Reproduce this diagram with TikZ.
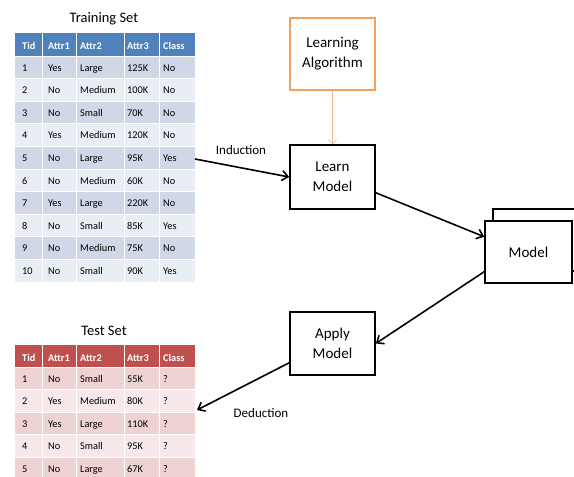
\documentclass[tikz,border=0pt]{standalone}
\usepackage{fontspec}
\setmainfont{Carlito}
\usetikzlibrary{calc,arrows.meta}
\definecolor{trainhead}{RGB}{79,129,189}
\definecolor{trainodd}{RGB}{208,216,232}
\definecolor{traineven}{RGB}{233,237,244}
\definecolor{testhead}{RGB}{192,80,77}
\definecolor{testodd}{RGB}{239,211,210}
\definecolor{testeven}{RGB}{247,233,233}
\definecolor{algoline}{RGB}{241,160,95}
\definecolor{algoarrow}{RGB}{236,184,140}
\newcommand{\rowht}{22.6}
\newcommand{\testht}{22.5}

\begin{document}
\begin{tikzpicture}[x=1pt,y=-1pt,
    cell/.style={anchor=base west, inner sep=0pt, font=\fontsize{10.3}{12}\selectfont},
    headcell/.style={cell, text=white, font=\fontsize{10.3}{12}\selectfont\bfseries},
    title/.style={font=\fontsize{14.5}{16}\selectfont},
    stepbox/.style={draw, line width=1.6pt, fill=white, minimum width=85pt,
      minimum height=64pt, align=center, font=\fontsize{15}{20}\selectfont},
    flow/.style={-{Straight Barb[length=6pt,width=10pt]}, line width=1.6pt}]
        \clip (0,0) rectangle (574,477);
        \fill[white] (0,0) rectangle (574,477);

          % training set
        \node (traintitle) at (104,19) [title] {Training Set};
        \fill[trainhead] (15,33) rectangle (195,56);
        \node (trtid) at (22,49) [headcell] {Tid};
        \node (tra1) at (48,49) [headcell] {Attr1};
        \node (tra2) at (80,49) [headcell] {Attr2};
        \node (tra3) at (127,49) [headcell] {Attr3};
        \node (trcl) at (163,49) [headcell] {Class};
        \foreach \t/\a/\b/\c/\d/\col [count=\i from 0] in {
            1/Yes/Large/125K/No/trainodd, 2/No/Medium/100K/No/traineven,
            3/No/Small/70K/No/trainodd, 4/Yes/Medium/120K/No/traineven,
            5/No/Large/95K/Yes/trainodd, 6/No/Medium/60K/No/traineven,
            7/Yes/Large/220K/No/trainodd, 8/No/Small/85K/Yes/traineven,
            9/No/Medium/75K/No/trainodd, 10/No/Small/90K/Yes/traineven}{
          \fill[\col] (15,56+\i*\rowht) rectangle (195,56+\i*\rowht+\rowht);
          \node (tr\t-0) at (22,71+\i*\rowht) [cell] {\t};
          \node (tr\t-1) at (48,71+\i*\rowht) [cell] {\a};
          \node (tr\t-2) at (80,71+\i*\rowht) [cell] {\b};
          \node (tr\t-3) at (127,71+\i*\rowht) [cell] {\c};
          \node (tr\t-4) at (163,71+\i*\rowht) [cell] {\d};
        }
        \foreach \x in {42,76,124,159}
          \draw[white, line width=1pt] (\x,33) -- (\x,282);
        \foreach \i in {0,...,9}
          \draw[white, line width=.8pt] (15,56+\i*\rowht) -- (195,56+\i*\rowht);

          % test set
        \node (testtitle) at (104,331) [title] {Test Set};
        \fill[testhead] (15,345) rectangle (195,367);
        \node (tstid) at (22,361) [headcell] {Tid};
        \node (tsa1) at (48,361) [headcell] {Attr1};
        \node (tsa2) at (80,361) [headcell] {Attr2};
        \node (tsa3) at (127,361) [headcell] {Attr3};
        \node (tscl) at (163,361) [headcell] {Class};
        \foreach \t/\a/\b/\c/\col [count=\i from 0] in {
            1/No/Small/55K/testodd, 2/Yes/Medium/80K/testeven,
            3/Yes/Large/110K/testodd, 4/No/Small/95K/testeven,
            5/No/Large/67K/testodd}{
          \fill[\col] (15,367+\i*\testht) rectangle (195,367+\i*\testht+\testht);
          \node (ts\t-0) at (22,382+\i*\testht) [cell] {\t};
          \node (ts\t-1) at (48,382+\i*\testht) [cell] {\a};
          \node (ts\t-2) at (80,382+\i*\testht) [cell] {\b};
          \node (ts\t-3) at (127,382+\i*\testht) [cell] {\c};
          \node (ts\t-4) at (163,382+\i*\testht) [cell] {?};
        }
        \foreach \x in {42,76,124,159}
          \draw[white, line width=1pt] (\x,345) -- (\x,477);
        \foreach \i in {0,...,4}
          \draw[white, line width=.8pt] (15,367+\i*\testht) -- (195,367+\i*\testht);

          % process boxes
        \node (algo) at (332.5,54) [stepbox, draw=algoline, minimum height=72pt] {Learning\\Algorithm};
        \node (learn) at (332.5,177) [stepbox] {Learn\\Model};
        \node (apply) at (332.5,343.5) [stepbox, minimum height=63pt] {Apply\\Model};
        \node (modelback) at (541.5,240) [stepbox, minimum width=97pt, minimum height=62pt] {};
        \node (model) at (528.5,252) [stepbox, minimum width=87pt, minimum height=62pt] {Model};

        \coordinate (trainout) at (195,159);
        \coordinate (testin) at (197,410);

        \draw[-{Straight Barb[length=4pt,width=8pt]}, algoarrow, line width=.8pt] (algo) to (learn);
        \draw[flow] (trainout) to (learn.west);
        \draw[flow] (learn.-20.6) to (model.161);
        \draw[flow] (model.204.7) to (apply.east);
        \draw[flow] (apply.204.6) to (testin);

        \node (induction) at (241,150) [font=\fontsize{13}{15}\selectfont] {Induction};
        \node (deduction) at (261,413) [font=\fontsize{13}{15}\selectfont] {Deduction};
        \end{tikzpicture}
\end{document}
